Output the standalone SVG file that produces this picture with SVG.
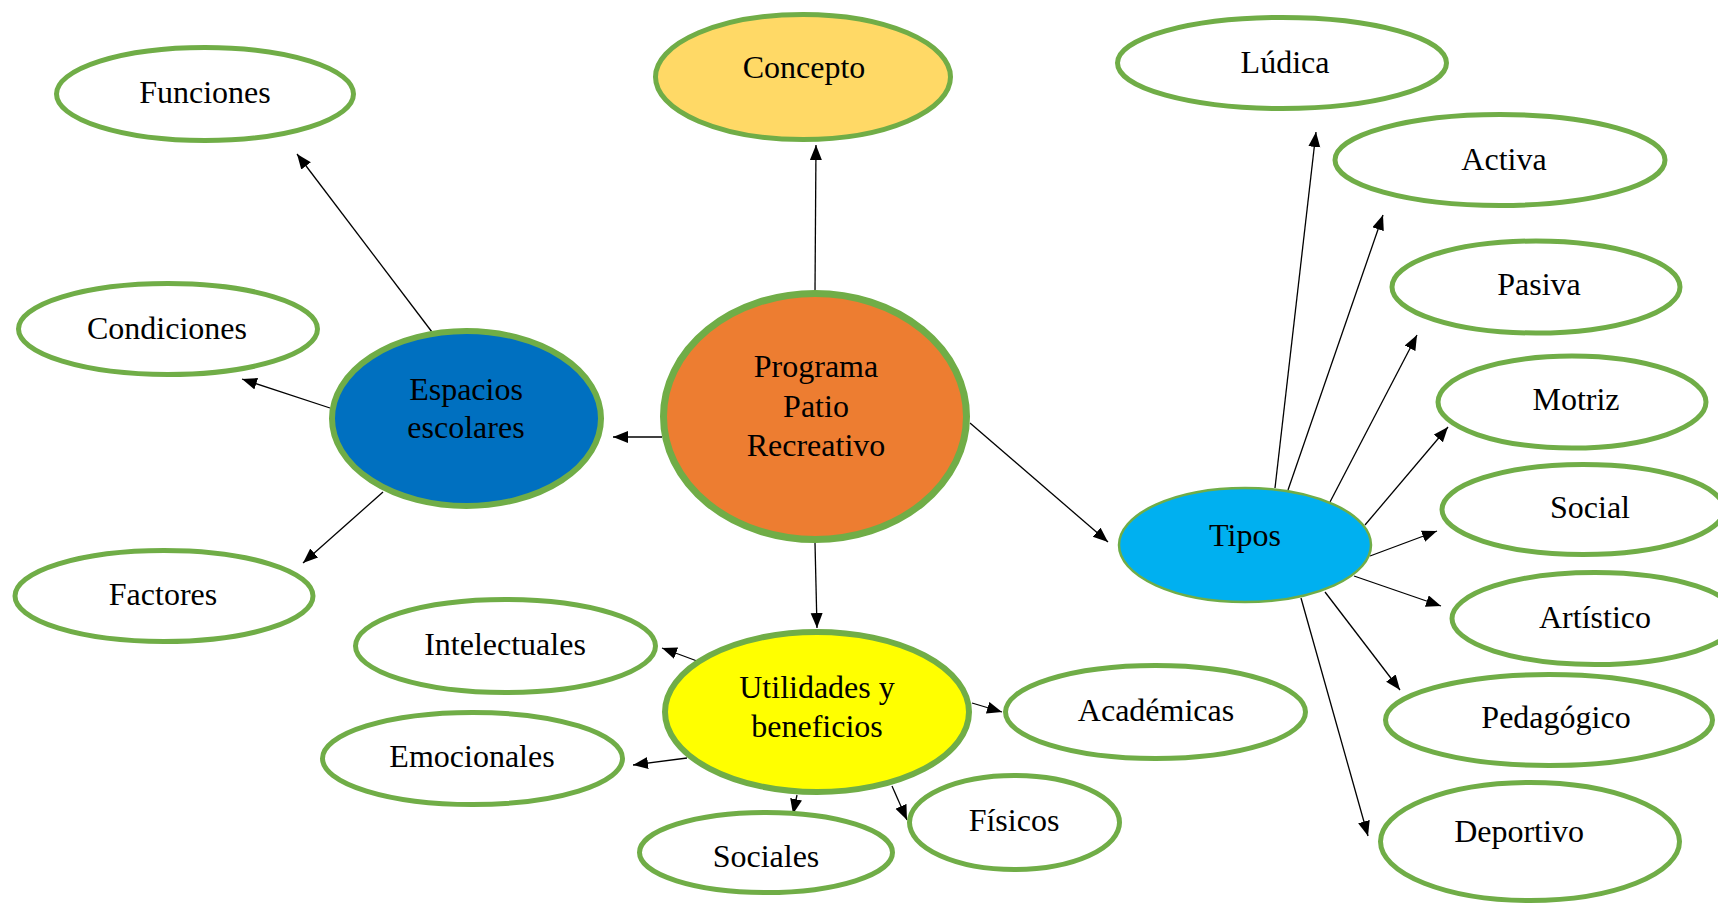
<svg xmlns="http://www.w3.org/2000/svg" width="1718" height="906" viewBox="0 0 1718 906">
<style>
.n{fill:#fff;stroke:#70AD47;stroke-width:5}
.t{font-family:"Liberation Serif","Times New Roman",serif;font-size:32px;fill:#000;text-anchor:middle}
.c{stroke:#000;stroke-width:1.3;fill:none;marker-end:url(#ah)}
</style>
<defs>
<marker id="ah" markerUnits="userSpaceOnUse" markerWidth="16" markerHeight="13" refX="15" refY="6" orient="auto">
<path d="M0,0 L15,6 L0,12 z" fill="#000"/>
</marker>
</defs>
<rect width="1718" height="906" fill="#fff"/>
<g id="connectors">
<line class="c" x1="815" y1="292" x2="816" y2="145"/>
<line class="c" x1="662" y1="437" x2="613" y2="437"/>
<line class="c" x1="970" y1="423" x2="1108" y2="542"/>
<line class="c" x1="815" y1="543" x2="817" y2="628"/>
<line class="c" x1="432" y1="332" x2="297" y2="154"/>
<line class="c" x1="330" y1="408" x2="242" y2="379"/>
<line class="c" x1="383" y1="492" x2="303" y2="563"/>
<line class="c" x1="1275" y1="488" x2="1316" y2="132"/>
<line class="c" x1="1288" y1="490" x2="1383" y2="215"/>
<line class="c" x1="1330" y1="502" x2="1417" y2="335"/>
<line class="c" x1="1365" y1="525" x2="1448" y2="427"/>
<line class="c" x1="1370" y1="556" x2="1437" y2="531"/>
<line class="c" x1="1354" y1="576" x2="1441" y2="606"/>
<line class="c" x1="1325" y1="592" x2="1400" y2="690"/>
<line class="c" x1="1301" y1="598" x2="1368" y2="836"/>
<line class="c" x1="697" y1="661" x2="662" y2="648"/>
<line class="c" x1="687" y1="758" x2="633" y2="765"/>
<line class="c" x1="797" y1="795" x2="793" y2="814"/>
<line class="c" x1="892" y1="786" x2="907" y2="820"/>
<line class="c" x1="972" y1="703" x2="1002" y2="712"/>
</g>
<g id="concepto"><ellipse cx="803" cy="77" rx="147.5" ry="62.5" fill="#FFD966" stroke="#70AD47" stroke-width="5"/><text class="t" x="804" y="78">Concepto</text></g>
<g id="programa"><ellipse cx="815" cy="416.5" rx="151.5" ry="123" fill="#ED7D31" stroke="#70AD47" stroke-width="7"/><text class="t" x="816" y="377">Programa</text><text class="t" x="816" y="417">Patio</text><text class="t" x="816" y="456">Recreativo</text></g>
<g id="espacios"><ellipse cx="466.5" cy="418.5" rx="134.5" ry="87.5" fill="#0070C0" stroke="#70AD47" stroke-width="6"/><text class="t" x="466" y="400">Espacios</text><text class="t" x="466" y="438">escolares</text></g>
<g id="tipos"><ellipse cx="1245" cy="545" rx="126" ry="57" fill="#00B0F0" stroke="#70AD47" stroke-width="2.5"/><text class="t" x="1245" y="546">Tipos</text></g>
<g id="utilidades"><ellipse cx="817" cy="712" rx="152" ry="80" fill="#FFFF00" stroke="#70AD47" stroke-width="6"/><text class="t" x="817" y="698">Utilidades y</text><text class="t" x="817" y="737">beneficios</text></g>
<g id="funciones"><ellipse class="n" cx="205" cy="94" rx="148.5" ry="46.5"/><text class="t" x="205" y="103">Funciones</text></g>
<g id="condiciones"><ellipse class="n" cx="168" cy="329" rx="149.5" ry="45.5"/><text class="t" x="167" y="339">Condiciones</text></g>
<g id="factores"><ellipse class="n" cx="164" cy="596" rx="149" ry="45.5"/><text class="t" x="163" y="605">Factores</text></g>
<g id="intelectuales"><ellipse class="n" cx="505.5" cy="646" rx="150" ry="46.5"/><text class="t" x="505" y="655">Intelectuales</text></g>
<g id="emocionales"><ellipse class="n" cx="472.5" cy="758.5" rx="150" ry="46"/><text class="t" x="472" y="767">Emocionales</text></g>
<g id="sociales"><ellipse class="n" cx="766" cy="852.5" rx="126.5" ry="40"/><text class="t" x="766" y="867">Sociales</text></g>
<g id="fisicos"><ellipse class="n" cx="1014.5" cy="822.5" rx="105" ry="47"/><text class="t" x="1014" y="831">Físicos</text></g>
<g id="academicas"><ellipse class="n" cx="1155.5" cy="712" rx="150" ry="46.5"/><text class="t" x="1156" y="721">Académicas</text></g>
<g id="ludica"><ellipse class="n" cx="1282" cy="63" rx="164.5" ry="45.5"/><text class="t" x="1285" y="73">Lúdica</text></g>
<g id="activa"><ellipse class="n" cx="1500" cy="160" rx="165" ry="45.5"/><text class="t" x="1504" y="170">Activa</text></g>
<g id="pasiva"><ellipse class="n" cx="1536" cy="287" rx="144" ry="46"/><text class="t" x="1539" y="295">Pasiva</text></g>
<g id="motriz"><ellipse class="n" cx="1572" cy="402" rx="134" ry="46"/><text class="t" x="1576" y="410">Motriz</text></g>
<g id="social"><ellipse class="n" cx="1583" cy="509.5" rx="141" ry="45"/><text class="t" x="1590" y="518">Social</text></g>
<g id="artistico"><ellipse class="n" cx="1595" cy="618.5" rx="143" ry="46"/><text class="t" x="1595" y="628">Artístico</text></g>
<g id="pedagogico"><ellipse class="n" cx="1549" cy="720" rx="163.5" ry="45.5"/><text class="t" x="1556" y="728">Pedagógico</text></g>
<g id="deportivo"><ellipse class="n" cx="1530" cy="841.5" rx="149.5" ry="59"/><text class="t" x="1519" y="842">Deportivo</text></g>
</svg>
